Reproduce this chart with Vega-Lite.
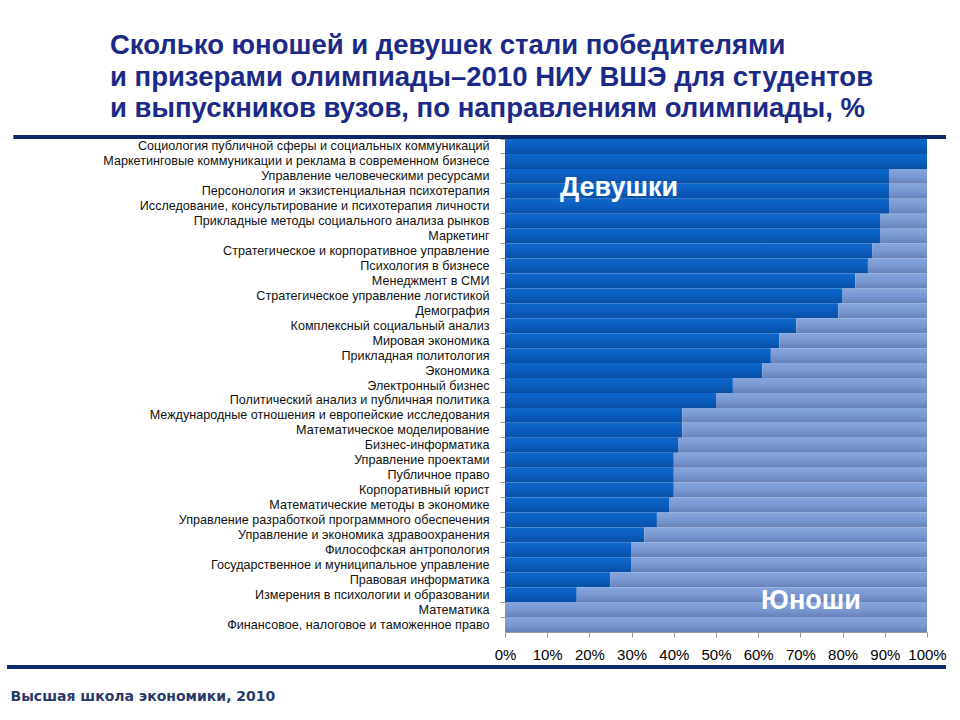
{
  "$schema": "https://vega.github.io/schema/vega-lite/v6.json",
  "autosize": {"type": "none"},
  "width": 422,
  "height": 493,
  "padding": {"left": 505, "top": 139, "right": 33, "bottom": 88},
  "background": "#ffffff",
  "config": {
    "font": "Liberation Sans",
    "view": {"stroke": null}
  },
  "title": {
    "text": ["Сколько юношей и девушек стали победителями", "и призерами олимпиады–2010 НИУ ВШЭ для студентов", "и выпускников вузов, по направлениям олимпиады, %"],
    "anchor": "start",
    "frame": "group",
    "dx": -395,
    "offset": 12,
    "font": "Liberation Sans",
    "fontSize": 27.5,
    "fontWeight": "bold",
    "lineHeight": 31.5,
    "color": "#1b2a86"
  },
  "data": {
    "values": [
      {"direction": "Социология публичной сферы и социальных коммуникаций", "Девушки": 100, "Юноши": 0},
      {"direction": "Маркетинговые коммуникации и реклама в современном бизнесе", "Девушки": 100, "Юноши": 0},
      {"direction": "Управление человеческими ресурсами", "Девушки": 91, "Юноши": 9},
      {"direction": "Персонология и экзистенциальная психотерапия", "Девушки": 91, "Юноши": 9},
      {"direction": "Исследование, консультирование и психотерапия личности", "Девушки": 91, "Юноши": 9},
      {"direction": "Прикладные методы социального анализа рынков", "Девушки": 89, "Юноши": 11},
      {"direction": "Маркетинг", "Девушки": 89, "Юноши": 11},
      {"direction": "Стратегическое и корпоративное управление", "Девушки": 87, "Юноши": 13},
      {"direction": "Психология в бизнесе", "Девушки": 86, "Юноши": 14},
      {"direction": "Менеджмент в СМИ", "Девушки": 83, "Юноши": 17},
      {"direction": "Стратегическое управление логистикой", "Девушки": 80, "Юноши": 20},
      {"direction": "Демография", "Девушки": 79, "Юноши": 21},
      {"direction": "Комплексный социальный анализ", "Девушки": 69, "Юноши": 31},
      {"direction": "Мировая экономика", "Девушки": 65, "Юноши": 35},
      {"direction": "Прикладная политология", "Девушки": 63, "Юноши": 37},
      {"direction": "Экономика", "Девушки": 61, "Юноши": 39},
      {"direction": "Электронный бизнес", "Девушки": 54, "Юноши": 46},
      {"direction": "Политический анализ и публичная политика", "Девушки": 50, "Юноши": 50},
      {"direction": "Международные отношения и европейские исследования", "Девушки": 42, "Юноши": 58},
      {"direction": "Математическое моделирование", "Девушки": 42, "Юноши": 58},
      {"direction": "Бизнес-информатика", "Девушки": 41, "Юноши": 59},
      {"direction": "Управление проектами", "Девушки": 40, "Юноши": 60},
      {"direction": "Публичное право", "Девушки": 40, "Юноши": 60},
      {"direction": "Корпоративный юрист", "Девушки": 40, "Юноши": 60},
      {"direction": "Математические методы в экономике", "Девушки": 39, "Юноши": 61},
      {"direction": "Управление разработкой программного обеспечения", "Девушки": 36, "Юноши": 64},
      {"direction": "Управление и экономика здравоохранения", "Девушки": 33, "Юноши": 67},
      {"direction": "Философская антропология", "Девушки": 30, "Юноши": 70},
      {"direction": "Государственное и муниципальное управление", "Девушки": 30, "Юноши": 70},
      {"direction": "Правовая информатика", "Девушки": 25, "Юноши": 75},
      {"direction": "Измерения в психологии и образовании", "Девушки": 17, "Юноши": 83},
      {"direction": "Математика", "Девушки": 0, "Юноши": 100},
      {"direction": "Финансовое, налоговое и таможенное право", "Девушки": 0, "Юноши": 100}
    ]
  },
  "encoding": {
    "y": {
      "field": "direction",
      "type": "nominal",
      "sort": null,
      "scale": {"paddingInner": 0, "paddingOuter": 0},
      "axis": {
        "title": null,
        "labelFontSize": 12.6,
        "labelColor": "#111111",
        "labelLimit": 0,
        "labelPadding": 11,
        "tickSize": 5,
        "tickColor": "#9a9a9a",
        "domainColor": "#9a9a9a",
        "bandPosition": 0
      }
    }
  },
  "layer": [
    {
      "transform": [
        {"fold": ["Девушки", "Юноши"], "as": ["sex", "pct"]},
        {"stack": "pct", "groupby": ["direction"], "sort": [{"field": "sex", "order": "ascending"}], "as": ["x0", "x1"]},
        {"filter": "datum.sex === 'Девушки'"}
      ],
      "mark": {
        "type": "bar",
        "color": {
          "gradient": "linear", "x1": 0, "y1": 0, "x2": 0, "y2": 1,
          "stops": [
            {"offset": 0, "color": "#0d67cc"},
            {"offset": 0.55, "color": "#0a5cbd"},
            {"offset": 1, "color": "#084fa3"}
          ]
        }
      },
      "encoding": {
        "x": {
          "field": "x0", "type": "quantitative",
          "scale": {"domain": [0, 100], "nice": false},
          "axis": {
            "values": [0, 10, 20, 30, 40, 50, 60, 70, 80, 90, 100],
            "labelExpr": "datum.value + '%'",
            "labelFontSize": 15,
            "labelColor": "#000000",
            "labelPadding": 10,
            "labelOverlap": false,
            "labelFlush": false,
            "tickSize": 5,
            "tickColor": "#9a9a9a",
            "domainColor": "#9a9a9a",
            "grid": false,
            "title": "Высшая школа экономики, 2010",
            "titleX": -495,
            "titleY": 68,
            "titleAlign": "left",
            "titleAnchor": null,
            "titleBaseline": "alphabetic",
            "titleFont": "DejaVu Sans",
            "titleFontSize": 14,
            "titleFontWeight": "bold",
            "titleColor": "#2b3a68"
          }
        },
        "x2": {"field": "x1"}
      }
    },
    {
      "transform": [
        {"fold": ["Девушки", "Юноши"], "as": ["sex", "pct"]},
        {"stack": "pct", "groupby": ["direction"], "sort": [{"field": "sex", "order": "ascending"}], "as": ["x0", "x1"]},
        {"filter": "datum.sex === 'Юноши'"}
      ],
      "mark": {
        "type": "bar",
        "color": {
          "gradient": "linear", "x1": 0, "y1": 0, "x2": 0, "y2": 1,
          "stops": [
            {"offset": 0, "color": "#86a6de"},
            {"offset": 0.55, "color": "#7896d0"},
            {"offset": 1, "color": "#6881b8"}
          ]
        }
      },
      "encoding": {
        "x": {"field": "x0", "type": "quantitative"},
        "x2": {"field": "x1"}
      }
    },
    {
      "data": {"values": [{}]},
      "mark": {"type": "text", "text": "Девушки", "color": "#ffffff", "fontSize": 27, "fontWeight": "bold", "font": "Liberation Sans", "baseline": "middle", "align": "center", "yOffset": -3},
      "encoding": {
        "x": {"datum": 27},
        "y": {"datum": "Персонология и экзистенциальная психотерапия"}
      }
    },
    {
      "data": {"values": [{}]},
      "mark": {"type": "text", "text": "Юноши", "color": "#ffffff", "fontSize": 27, "fontWeight": "bold", "font": "Liberation Sans", "baseline": "middle", "align": "center", "yOffset": 6},
      "encoding": {
        "x": {"datum": 72.5},
        "y": {"datum": "Измерения в психологии и образовании"}
      }
    },
    {
      "data": {"values": [{}]},
      "mark": {"type": "rule", "color": "#0c2a6b", "strokeWidth": 4, "yOffset": -9.5, "strokeCap": "butt"},
      "encoding": {
        "x": {"datum": -116.5},
        "x2": {"datum": 104.5},
        "y": {"datum": "Социология публичной сферы и социальных коммуникаций"}
      }
    },
    {
      "data": {"values": [{}]},
      "mark": {"type": "rule", "color": "#0c2a6b", "strokeWidth": 4, "yOffset": 42.5, "strokeCap": "butt"},
      "encoding": {
        "x": {"datum": -118},
        "x2": {"datum": 104.5},
        "y": {"datum": "Финансовое, налоговое и таможенное право"}
      }
    }
  ]
}
